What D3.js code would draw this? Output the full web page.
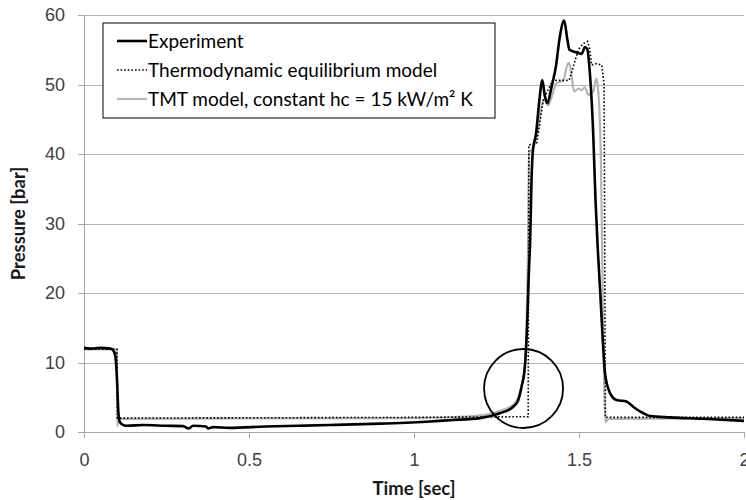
<!DOCTYPE html>
<meta charset="utf-8">
<style>
  body {
      margin: 0;
      padding: 0;
      background: #fff;
  }
  svg {
      font-family: 'Lato', 'Noto Sans', sans-serif;
  }
  .grid line {
      stroke: #b3b3b3;
      stroke-width: 1;
      shape-rendering: crispEdges;
  }
  .grid path {
      stroke-width: 0;
  }
  .axis path, .axis line {
      stroke: #a6a6a6;
      shape-rendering: crispEdges;
  }
  .axis text {
      fill: #404040;
      font-size: 18px;
  }
  .title {
      font-weight: bold;
      font-size: 18.5px;
      fill: #1a1a1a;
  }
  .legend text {
      font-size: 19px;
      fill: #000;
  }
</style>
<body>
<script src="https://d3js.org/d3.v7.min.js"></script>
<script>
// series: [time sec, pressure bar]
var experiment = [
    [0, 12.1], [0.02, 12.0], [0.05, 12.1], [0.08, 12.0], [0.088, 11.8], [0.095, 10.9],
    [0.1, 7.5], [0.104, 3.0], [0.108, 1.5], [0.115, 1.1], [0.13, 0.9], [0.18, 1.0],
    [0.25, 0.9], [0.3, 0.85], [0.318, 0.5], [0.33, 0.9], [0.37, 0.8], [0.376, 0.5],
    [0.39, 0.7], [0.442, 0.6], [0.55, 0.8], [0.65, 0.9], [0.745, 1.0], [0.9, 1.2],
    [1.048, 1.5], [1.109, 1.7], [1.2, 2.0], [1.26, 2.7], [1.30, 3.6], [1.316, 4.6],
    [1.326, 6.5], [1.336, 9.4], [1.343, 15.7], [1.348, 22.9], [1.352, 27.6], [1.356, 36],
    [1.360, 40.3], [1.370, 43], [1.380, 47.8], [1.389, 50.6], [1.396, 48.5], [1.404, 47.3],
    [1.417, 49.7], [1.430, 52.6], [1.442, 56.9], [1.455, 59.2], [1.465, 56.4], [1.471, 55.0],
    [1.493, 54.6], [1.508, 54.4], [1.518, 55.4], [1.525, 55.1], [1.533, 51.6], [1.543, 43],
    [1.550, 33.4], [1.557, 26.2], [1.564, 20.4], [1.572, 13.2], [1.579, 8.4], [1.594, 5.6],
    [1.614, 4.6], [1.644, 4.4], [1.665, 3.6], [1.695, 2.7], [1.715, 2.3], [1.776, 2.1],
    [1.877, 1.9], [2.0, 1.6]
];

var equilibrium = [
    [0, 11.9], [0.1, 11.9], [0.101, 2.0], [1.0, 2.1], [1.346, 2.2], [1.348, 41.3],
    [1.372, 41.6], [1.392, 47.8], [1.42, 50.6], [1.47, 50.6], [1.483, 52.6], [1.498, 55],
    [1.513, 55.9], [1.526, 56.2], [1.533, 55], [1.538, 52.8], [1.553, 53.0], [1.569, 52.8],
    [1.576, 50], [1.58, 2.1], [2.0, 2.1]
];

var tmt = [
    [0, 11.9], [0.1, 11.9], [0.101, 0.8], [0.104, 1.9], [1.0, 2.0], [1.15, 2.2],
    [1.22, 2.5], [1.26, 3.0], [1.29, 3.6], [1.311, 4.5], [1.325, 6.5], [1.333, 8.5],
    [1.340, 13], [1.345, 25], [1.349, 40.1], [1.362, 41], [1.374, 43], [1.384, 46.3],
    [1.394, 47.8], [1.407, 47.0], [1.417, 48.2], [1.432, 50.2], [1.453, 50.6], [1.463, 52.6],
    [1.470, 53.1], [1.478, 51.1], [1.485, 49.0], [1.498, 49.4], [1.508, 49.2], [1.518, 49.6],
    [1.528, 48.5], [1.543, 49.0], [1.553, 50.9], [1.558, 49.2], [1.566, 40], [1.572, 20],
    [1.577, 5], [1.580, 1.4], [1.59, 1.9], [2.0, 2.0]
];

var xTicks = [0, 0.5, 1, 1.5, 2];
var yTicks = [0, 10, 20, 30, 40, 50, 60];
var legendLabels = ["Experiment", "Thermodynamic equilibrium model", "TMT model, constant hc = 15 kW/m\u00b2 K"];
var marker = [1.332, 6.26];   // circled spot

var margin = {top: 15, right: 2, bottom: 68, left: 84},
    width = 746 - margin.left - margin.right,
    height = 500 - margin.top - margin.bottom;

var x = d3.scaleLinear().domain([0, 2]).range([0, width]);
var y = d3.scaleLinear().domain([0, 60]).range([height, 0]);

var svg = d3.select("body").append("svg")
    .attr("width", 746)
    .attr("height", 500)
  .append("g")
    .attr("transform", "translate(" + margin.left + "," + margin.top + ")");

svg.append("g")
    .attr("class", "grid")
    .call(d3.axisLeft(y).tickValues(yTicks.slice(1)).tickSize(-width).tickFormat(""));

svg.append("g")
    .attr("class", "axis")
    .call(d3.axisLeft(y).tickValues(yTicks).tickSize(6).tickSizeOuter(0).tickPadding(13));

svg.append("g")
    .attr("class", "axis")
    .attr("transform", "translate(0," + height + ")")
    .call(d3.axisBottom(x).tickValues(xTicks).tickSize(6).tickSizeOuter(0).tickPadding(15)
        .tickFormat(d3.format("")));

var line = d3.line()
    .x(function(d) { return x(d[0]); })
    .y(function(d) { return y(d[1]); });

var smooth = d3.line()
    .curve(d3.curveMonotoneX)
    .x(function(d) { return x(d[0]); })
    .y(function(d) { return y(d[1]); });

svg.append("path")
    .datum(tmt)
    .attr("fill", "none")
    .attr("stroke", "#b5b5b5")
    .attr("stroke-width", 2.2)
    .attr("d", smooth);

svg.append("path")
    .datum(equilibrium)
    .attr("fill", "none")
    .attr("stroke", "#000")
    .attr("stroke-width", 1.6)
    .attr("stroke-dasharray", "1.6,2")
    .attr("d", line);

svg.append("path")
    .datum(experiment)
    .attr("fill", "none")
    .attr("stroke", "#000")
    .attr("stroke-width", 2.6)
    .attr("stroke-linejoin", "round")
    .attr("d", smooth);

svg.append("circle")
    .attr("cx", x(marker[0]))
    .attr("cy", y(marker[1]))
    .attr("r", 39.5)
    .attr("fill", "none")
    .attr("stroke", "#000")
    .attr("stroke-width", 1.8);

// legend
var legend = svg.append("g")
    .attr("class", "legend")
    .attr("transform", "translate(19,8)");

legend.append("rect")
    .attr("width", 392)
    .attr("height", 95)
    .attr("fill", "#fff")
    .attr("stroke", "#000")
    .attr("stroke-width", 1);

var styles = [
    {stroke: "#000", w: 2.6, dash: null},
    {stroke: "#000", w: 1.6, dash: "1.6,2"},
    {stroke: "#b5b5b5", w: 2.2, dash: null}
];

legendLabels.forEach(function(label, i) {
    var cy = 18 + i * 29;
    legend.append("line")
        .attr("x1", 14).attr("x2", 44)
        .attr("y1", cy).attr("y2", cy)
        .attr("stroke", styles[i].stroke)
        .attr("stroke-width", styles[i].w)
        .attr("stroke-dasharray", styles[i].dash);
    legend.append("text")
        .attr("x", 45)
        .attr("y", cy)
        .attr("dy", "0.35em")
        .text(label);
});

svg.append("text")
    .attr("class", "title")
    .attr("text-anchor", "middle")
    .attr("x", width / 2)
    .attr("y", height + 63)
    .text("Time [sec]");

svg.append("text")
    .attr("class", "title")
    .attr("text-anchor", "middle")
    .attr("transform", "translate(" + (-59) + "," + (height / 2) + ") rotate(-90)")
    .text("Pressure [bar]");
</script>
</body>
